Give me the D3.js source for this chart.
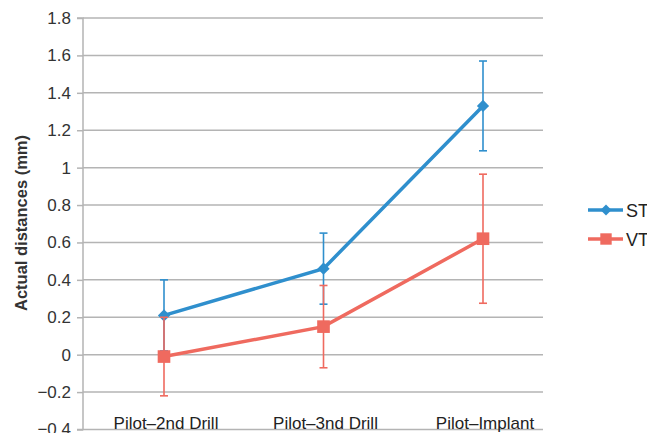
<!DOCTYPE html>
<html><head><meta charset="utf-8">
<script src="https://cdn.jsdelivr.net/npm/d3@7"></script>
<style>body{margin:0;background:#fff}svg{display:block}</style>
</head><body>
<svg id="c" width="647" height="433"></svg>
<script>
const categories = ["Pilot\u20132nd Drill", "Pilot\u20133nd Drill", "Pilot\u2013Implant"];
const seriesNames = ["ST", "VT"];
const stValues = [0.21, 0.46, 1.33];
const stErrors = [0.19, 0.19, 0.24];
const vtValues = [-0.01, 0.15, 0.62];
const vtErrors = [0.21, 0.22, 0.345];
const yTicks = [-0.4, -0.2, 0, 0.2, 0.4, 0.6, 0.8, 1, 1.2, 1.4, 1.6, 1.8];
const colors = ["#2f8fcd", "#ef6a5f"];

const svg = d3.select("#c");
const pLeft = 83, pRight = 543, pTop = 18, pBottom = 429.5;
const y = d3.scaleLinear().domain([-0.4, 1.8]).range([pBottom, pTop]);
const x = d3.scaleLinear().domain([0, 2]).range([164, 483]);
const font = "Liberation Sans, Arial, sans-serif";
const fmt = v => v === 0 ? "0" : (v < 0 ? "\u2212" + d3.format("")(Math.abs(v)) : d3.format("")(v));

// gridlines
svg.append("g").selectAll("line").data(yTicks).join("line")
  .attr("x1", pLeft).attr("x2", pRight)
  .attr("y1", d => y(d)).attr("y2", d => y(d))
  .attr("stroke", "#b4b4b4").attr("stroke-width", 1.5);

// y axis
const yAxis = d3.axisLeft(y).tickValues(yTicks).tickSize(6).tickPadding(6).tickFormat(fmt);
const ga = svg.append("g").attr("transform", `translate(${pLeft},0)`).call(yAxis);
ga.select(".domain").attr("stroke", "#b4b4b4").attr("stroke-width", 1.5).attr("d", `M-6,${pBottom}H0V${pTop}H-6`);
ga.selectAll(".tick line").attr("stroke", "#b4b4b4").attr("stroke-width", 1.5);
ga.selectAll(".tick text").attr("font-family", font).attr("font-size", 17).attr("fill", "#333");

// y label
svg.append("text").attr("transform", "translate(27,223) rotate(-90)")
  .attr("text-anchor", "middle").attr("font-family", font).attr("font-size", 16.5)
  .attr("font-weight", "bold").attr("fill", "#333").text("Actual distances (mm)");

// x labels
svg.append("g").selectAll("text").data(categories).join("text")
  .attr("x", (d, i) => x(i) + 2).attr("y", 429).attr("text-anchor", "middle")
  .attr("font-family", font).attr("font-size", 17).attr("fill", "#222").text(d => d);

const diamond = d3.symbol().type(d3.symbolSquare);
const series = [
  {name: seriesNames[0], vals: stValues, errs: stErrors, color: colors[0], size: 75, rot: 45},
  {name: seriesNames[1], vals: vtValues, errs: vtErrors, color: colors[1], size: 160, rot: 0}
];

series.forEach((s, si) => {
  const g = svg.append("g");
  s.vals.forEach((v, i) => {
    const cx = x(i), y1 = y(v + s.errs[i]), y2 = y(v - s.errs[i]);
    g.append("line").attr("x1", cx).attr("x2", cx).attr("y1", y1).attr("y2", y2)
      .attr("stroke", s.color).attr("stroke-width", 1.6);
    [y1, y2].forEach(yy => g.append("line").attr("x1", cx - 4).attr("x2", cx + 4)
      .attr("y1", yy).attr("y2", yy).attr("stroke", s.color).attr("stroke-width", 1.6));
  });
  const line = d3.line().x((d, i) => x(i)).y(d => y(d));
  g.append("path").attr("d", line(s.vals)).attr("fill", "none")
    .attr("stroke", s.color).attr("stroke-width", 3.5);
  g.selectAll("path.m").data(s.vals).join("path").attr("class", "m")
    .attr("transform", (d, i) => `translate(${x(i)},${y(d)}) rotate(${s.rot})`)
    .attr("d", diamond.size(s.size)())
    .attr("fill", s.color);
  const ly = si === 0 ? 210 : 239;
  svg.append("line").attr("x1", 588).attr("x2", 623).attr("y1", ly).attr("y2", ly)
    .attr("stroke", s.color).attr("stroke-width", 3.5);
  svg.append("path").attr("transform", `translate(606,${ly}) rotate(${s.rot})`)
    .attr("d", diamond.size(si === 0 ? 60 : 130)()).attr("fill", s.color);
  svg.append("text").attr("x", 626).attr("y", ly + 6.5).attr("font-family", font)
    .attr("font-size", 18).attr("fill", "#222").text(s.name);
});
</script>
</body></html>
